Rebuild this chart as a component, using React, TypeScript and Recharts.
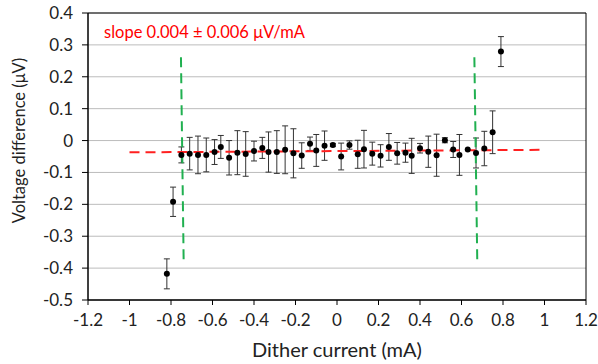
import React from "react";
import {
  ScatterChart,
  Scatter,
  XAxis,
  YAxis,
  CartesianGrid,
  ErrorBar,
  ReferenceArea,
} from "recharts";

// measured points: dither current (mA), voltage difference (uV), error (uV)
const current = [
  -0.82, -0.79, -0.75, -0.71, -0.67, -0.63, -0.59, -0.56, -0.52, -0.48, -0.44,
  -0.4, -0.36, -0.33, -0.29, -0.25, -0.21, -0.17, -0.13, -0.1, -0.06, -0.02,
  0.02, 0.06, 0.1, 0.13, 0.17, 0.21, 0.25, 0.29, 0.33, 0.36, 0.4, 0.44, 0.48,
  0.52, 0.56, 0.59, 0.63, 0.67, 0.71, 0.75, 0.79,
];
const voltage = [
  -0.418, -0.192, -0.045, -0.041, -0.045, -0.045, -0.036, -0.02, -0.054, -0.038,
  -0.042, -0.033, -0.023, -0.036, -0.036, -0.029, -0.04, -0.047, -0.01, -0.031,
  -0.016, -0.014, -0.05, -0.014, -0.043, -0.027, -0.041, -0.048, -0.02, -0.04,
  -0.038, -0.048, -0.024, -0.035, -0.046, 0.001, -0.028, -0.045, -0.028,
  -0.039, -0.025, 0.026, 0.279,
];
const errors = [
  0.047, 0.046, 0.025, 0.051, 0.059, 0.053, 0.039, 0.036, 0.054, 0.069, 0.07,
  0.031, 0.033, 0.063, 0.067, 0.075, 0.077, 0.04, 0.021, 0.05, 0.046, 0.005,
  0.042, 0.013, 0.044, 0.059, 0.036, 0.035, 0.042, 0.034, 0.03, 0.055, 0.015,
  0.049, 0.066, 0.008, 0.025, 0.064, 0, 0.047, 0.054, 0.067, 0.047,
];

// linear fit and the two cut-off markers
const fitX = [-1, 1];
const fitY = [-0.037, -0.029];
const leftCutX = [-0.752, -0.739];
const rightCutX = [0.662, 0.676];
const cutY = [0.261, -0.379];

const xTicks = [-1.2, -1, -0.8, -0.6, -0.4, -0.2, 0, 0.2, 0.4, 0.6, 0.8, 1, 1.2];
const yTicks = [-0.5, -0.4, -0.3, -0.2, -0.1, 0, 0.1, 0.2, 0.3, 0.4];

const points = current.map((x, i) => ({ x, y: voltage[i], err: errors[i] }));
const fitLine = fitX.map((x, i) => ({ x, y: fitY[i] }));
const leftCut = leftCutX.map((x, i) => ({ x, y: cutY[i] }));
const rightCut = rightCutX.map((x, i) => ({ x, y: cutY[i] }));

const font = "Lato, 'Open Sans', sans-serif";
const fmt = (v: number) => String(Number(v.toFixed(1)));

const Dot = (props: any) => <circle cx={props.cx} cy={props.cy} r={3} fill="#000" />;
const NoDot = () => null;

const YTitle = (props: any) => {
  const vb = props.viewBox || {};
  const cx = 19;
  const cy = vb.y + vb.height / 2 - 16;
  return (
    <text
      x={cx}
      y={cy}
      transform={`rotate(-90 ${cx} ${cy})`}
      textAnchor="middle"
      dominantBaseline="central"
      fill="#222"
      fontSize={16.5}
      fontFamily={font}
    >
      Voltage difference ({"\u03bc"}V)
    </text>
  );
};

const XTitle = (props: any) => {
  const vb = props.viewBox || {};
  return (
    <text x={vb.x + vb.width / 2} y={357} textAnchor="middle" fill="#222" fontSize={20} fontFamily={font}>
      Dither current (mA)
    </text>
  );
};

export default function App() {
  return (
    <div style={{ position: "absolute", left: 0, top: 0, width: 598, height: 364, background: "#fff", fontFamily: font }}>
      <ScatterChart width={598} height={364} margin={{ top: 13, right: 12, bottom: 0, left: 0 }}>
        <CartesianGrid vertical={false} stroke="#bcbcbc" />
        <XAxis
          type="number"
          dataKey="x"
          domain={[-1.2, 1.2]}
          ticks={xTicks}
          tickFormatter={fmt}
          height={64}
          stroke="#000"
          tick={{ fill: "#222", fontSize: 17, fontFamily: font }}
          tickSize={5}
          tickMargin={9}
          label={<XTitle />}
        />
        <YAxis
          type="number"
          dataKey="y"
          domain={[-0.5, 0.4]}
          ticks={yTicks}
          tickFormatter={fmt}
          width={88}
          stroke="#000"
          tick={{ fill: "#222", fontSize: 17, fontFamily: font }}
          tickSize={6}
          tickMargin={9}
          label={<YTitle />}
        />
        <ReferenceArea x1={-1.2} x2={1.2} y1={-0.5} y2={0.4} fill="none" stroke="#000" strokeWidth={1} />
        <Scatter data={fitLine} line={{ stroke: "#ff2020", strokeWidth: 2, strokeDasharray: "10 6" }} shape={NoDot} isAnimationActive={false} />
        <Scatter data={leftCut} line={{ stroke: "#20b050", strokeWidth: 2, strokeDasharray: "10 6" }} shape={NoDot} isAnimationActive={false} />
        <Scatter data={rightCut} line={{ stroke: "#20b050", strokeWidth: 2, strokeDasharray: "10 6" }} shape={NoDot} isAnimationActive={false} />
        <Scatter data={points} shape={Dot} isAnimationActive={false}>
          <ErrorBar dataKey="err" direction="y" width={3} stroke="#333" strokeWidth={1} isAnimationActive={false} />
        </Scatter>
      </ScatterChart>
      <div style={{ position: "absolute", left: 104, top: 22, color: "#ff0000", fontSize: 16.5, fontFamily: font, whiteSpace: "nowrap" }}>
        slope 0.004 ± 0.006 {"\u03bc"}V/mA
      </div>
    </div>
  );
}
